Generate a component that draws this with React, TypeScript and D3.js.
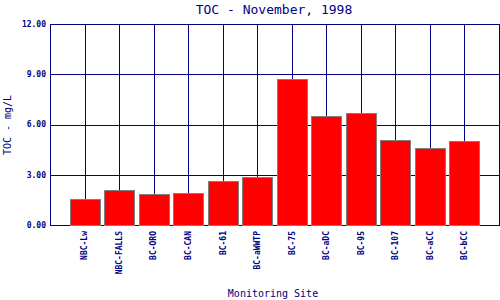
import React from "react";
import * as d3 from "d3";

const sites = ["NBC-Lw", "NBC-FALLS", "BC-ORO", "BC-CAN", "BC-61", "BC-aWWTP", "BC-75", "BC-aDC", "BC-95", "BC-107", "BC-aCC", "BC-bCC"];
const toc = [1.55, 2.09, 1.85, 1.93, 2.63, 2.87, 8.72, 6.51, 6.69, 5.07, 4.6, 5.01];
const yTicks = [0, 3, 6, 9, 12];

const W = 500, H = 300;
const left = 50, right = 499, top = 24, bottom = 225;
const navy = "#000080";
const mono = "'DejaVu Sans Mono', 'Liberation Mono', monospace";

export default function App() {
  const x = d3.scalePoint<string>().domain(sites).range([left, right]).padding(1);
  const y = d3.scaleLinear().domain([0, 12]).range([bottom, top]);
  const barW = 30;
  return (
    <div style={{ position: "absolute", left: 0, top: 0 }}>
      <svg width={W} height={H} style={{ display: "block", background: "#fff" }}>
        <text x={274} y={13.5} textAnchor="middle" fontFamily={mono} fontSize={13} fill={navy}>
          TOC - November, 1998
        </text>
        <g shapeRendering="crispEdges" stroke={navy} strokeWidth={1}>
          {yTicks.map((t) => (
            <line key={t} x1={left} x2={right} y1={Math.round(y(t)) + 0.5} y2={Math.round(y(t)) + 0.5} />
          ))}
          {sites.map((s) => (
            <line key={s} x1={Math.round(x(s)!) + 0.5} x2={Math.round(x(s)!) + 0.5} y1={top} y2={bottom} />
          ))}
          <line x1={left + 0.5} x2={left + 0.5} y1={top} y2={bottom + 1} />
          <line x1={right + 0.5} x2={right + 0.5} y1={top} y2={bottom + 1} />
        </g>
        <g shapeRendering="crispEdges">
          {sites.map((s, i) => (
            <rect
              key={s}
              x={Math.round(x(s)! - barW / 2) + 0.5}
              y={Math.round(y(toc[i])) + 0.5}
              width={barW}
              height={Math.round(y(0)) - Math.round(y(toc[i]))}
              fill="#ff0000"
              stroke="#808080"
              strokeWidth={1}
            />
          ))}
        </g>
        {yTicks.map((t) => (
          <text key={t} x={46} y={y(t)} dy="0.35em" textAnchor="end" fontFamily={mono} fontSize={8} fontWeight="bold" fill={navy}>
            {t.toFixed(2)}
          </text>
        ))}
        {sites.map((s) => (
          <text
            key={s}
            transform={`translate(${x(s)},${231}) rotate(-90)`}
            dy="0.35em"
            textAnchor="end"
            fontFamily={mono}
            fontSize={8}
            fontWeight="bold"
            fill={navy}
          >
            {s}
          </text>
        ))}
        <text transform={`translate(11,125) rotate(-90)`} textAnchor="middle" fontFamily={mono} fontSize={10} fill={navy}>
          TOC - mg/L
        </text>
        <text x={273} y={296.5} textAnchor="middle" fontFamily={mono} fontSize={10} fill={navy}>
          Monitoring Site
        </text>
      </svg>
    </div>
  );
}
